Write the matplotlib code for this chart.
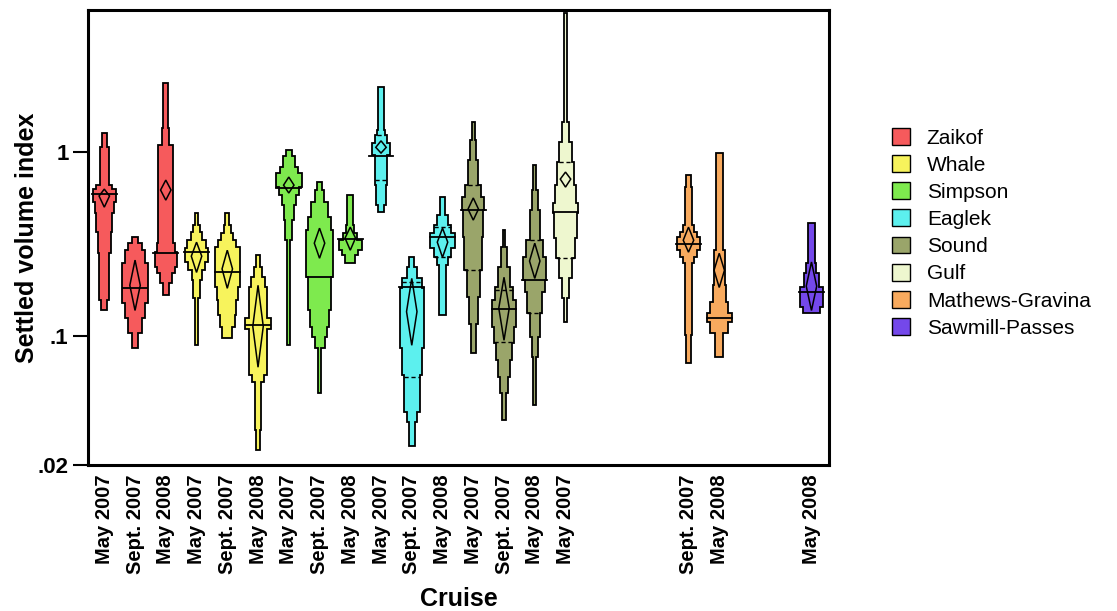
import matplotlib
matplotlib.use("Agg")
import matplotlib.pyplot as plt
from matplotlib.patches import Polygon, Patch

plt.rcParams['font.family'] = ['Liberation Sans', 'DejaVu Sans']

sites = ["Zaikof", "Whale", "Simpson", "Eaglek", "Sound", "Gulf",
         "Mathews-Gravina", "Sawmill-Passes"]
site_colors = ["#F65A5C", "#F7F35C", "#7EEA4E", "#5CF0EE", "#9AA56A",
               "#EEF7CF", "#F8AA5E", "#7448EA"]
cruises = ["May 2007", "Sept. 2007", "May 2008"]

violin_site = [0, 0, 0, 1, 1, 1, 2, 2, 2, 3, 3, 3, 4, 4, 4, 5, 6, 6, 7]
violin_cruise = [0, 1, 2, 0, 1, 2, 0, 1, 2, 0, 1, 2, 0, 1, 2, 0, 1, 2, 2]

# bin edges (settled volume index, top to bottom) and relative density per bin
edges = [
    [1.27, 1.06, 0.661, 0.629, 0.534, 0.466, 0.368, 0.282, 0.157, 0.138],
    [0.345, 0.320, 0.293, 0.249, 0.151, 0.126, 0.104, 0.0861],
    [2.37, 1.35, 1.09, 0.320, 0.286, 0.237, 0.220, 0.194, 0.167],
    [0.466, 0.401, 0.368, 0.332, 0.300, 0.253, 0.228, 0.201, 0.161, 0.0893],
    [0.466, 0.401, 0.363, 0.332, 0.304, 0.184, 0.157, 0.130, 0.112, 0.0977],
    [0.275, 0.237, 0.209, 0.184, 0.125, 0.110, 0.0613, 0.0563, 0.0308, 0.0240],
    [1.025, 0.951, 0.829, 0.768, 0.645, 0.584, 0.515, 0.427, 0.332, 0.0893],
    [0.686, 0.622, 0.534, 0.443, 0.377, 0.209, 0.138, 0.112, 0.0989, 0.0861, 0.0490],
    [0.584, 0.401, 0.363, 0.332, 0.293, 0.275, 0.249],
    [2.25, 1.32, 1.24, 1.12, 0.962, 0.661, 0.515, 0.472],
    [0.268, 0.237, 0.206, 0.182, 0.0861, 0.0613, 0.0386, 0.0341, 0.0255],
    [0.570, 0.454, 0.401, 0.363, 0.300, 0.268, 0.243, 0.130],
    [1.45, 1.16, 0.905, 0.661, 0.570, 0.484, 0.345, 0.228, 0.163, 0.117, 0.0808],
    [0.377, 0.304, 0.237, 0.184, 0.157, 0.112, 0.0916, 0.0741, 0.0598, 0.0490, 0.0350],
    [0.850, 0.622, 0.484, 0.332, 0.268, 0.201, 0.174, 0.133, 0.0989, 0.0769, 0.0422],
    [5.69, 1.45, 1.13, 0.882, 0.661, 0.528, 0.466, 0.341, 0.265, 0.206, 0.161, 0.119],
    [0.749, 0.645, 0.401, 0.368, 0.345, 0.293, 0.268, 0.249, 0.101, 0.0714],
    [0.987, 0.293, 0.189, 0.153, 0.133, 0.119, 0.104, 0.0769],
    [0.411, 0.249, 0.220, 0.184, 0.144, 0.133],
]
density = [
    [0.19, 0.32, 0.62, 0.88, 0.73, 0.62, 0.50, 0.38, 0.23],
    [0.25, 0.52, 0.77, 0.96, 0.77, 0.56, 0.25],
    [0.18, 0.28, 0.56, 0.69, 0.85, 0.69, 0.44, 0.21],
    [0.12, 0.23, 0.42, 0.72, 0.90, 0.62, 0.38, 0.23, 0.08],
    [0.15, 0.27, 0.46, 0.69, 0.96, 0.81, 0.67, 0.58, 0.38],
    [0.18, 0.31, 0.50, 0.69, 0.96, 0.69, 0.42, 0.25, 0.15],
    [0.23, 0.46, 0.69, 1.00, 0.77, 0.54, 0.38, 0.28, 0.12],
    [0.19, 0.35, 0.62, 0.85, 1.00, 0.85, 0.69, 0.54, 0.38, 0.13],
    [0.23, 0.31, 0.54, 0.85, 0.62, 0.38],
    [0.21, 0.31, 0.42, 0.69, 0.46, 0.41, 0.23],
    [0.19, 0.38, 0.77, 0.92, 0.77, 0.62, 0.38, 0.23],
    [0.21, 0.38, 0.62, 0.96, 0.62, 0.38, 0.23],
    [0.10, 0.23, 0.38, 0.62, 0.85, 0.77, 0.69, 0.50, 0.35, 0.19],
    [0.10, 0.23, 0.42, 0.65, 0.92, 0.77, 0.62, 0.46, 0.31, 0.12],
    [0.10, 0.23, 0.38, 0.65, 0.88, 0.77, 0.58, 0.38, 0.23, 0.10],
    [0.09, 0.23, 0.46, 0.62, 0.81, 0.96, 0.85, 0.69, 0.46, 0.23, 0.10],
    [0.18, 0.25, 0.42, 0.65, 0.88, 0.65, 0.42, 0.28, 0.18],
    [0.27, 0.42, 0.50, 0.69, 0.96, 0.69, 0.31],
    [0.23, 0.38, 0.58, 0.85, 0.62],
]
medians = [0.592, 0.182, 0.282, 0.286, 0.222, 0.115, 0.637, 0.209, 0.337, 0.951,
           0.184, 0.345, 0.484, 0.140, 0.201, 0.472, 0.316, 0.125, 0.174]
means = [0.577, 0.189, 0.622, 0.272, 0.232, 0.113, 0.661, 0.320, 0.341, 1.06,
         0.136, 0.324, 0.490, 0.142, 0.256, 0.713, 0.332, 0.228, 0.187]
mean_lo = [0.502, 0.138, 0.548, 0.222, 0.182, 0.0679, 0.599, 0.265, 0.293, 0.987,
           0.0893, 0.268, 0.427, 0.0951, 0.206, 0.645, 0.286, 0.184, 0.138]
mean_hi = [0.629, 0.259, 0.704, 0.324, 0.293, 0.189, 0.731, 0.386, 0.391, 1.15,
           0.206, 0.386, 0.563, 0.209, 0.320, 0.778, 0.391, 0.282, 0.253]
q_upper = [None] * 9 + [1.24, 0.196, 0.391, 0.661, 0.178, 0.332, 0.882, None, None, None]
q_lower = [None] * 9 + [0.704, 0.0598, 0.268, 0.228, 0.0927, 0.133, 0.265, None, None, None]

W = 0.43       # half width for relative density 1
MED_W = 0.40   # half length of median bar
DIA_W = 0.17   # half width of mean diamond

fig = plt.figure(figsize=(11.17, 6.11), dpi=100)
ax = fig.add_axes([88 / 1117, 1 - 465 / 611, (829 - 88) / 1117, (465 - 10) / 611])
ax.set_yscale('log')


def width_at(e, d, v):
    for k in range(len(d)):
        if e[k] >= v >= e[k + 1]:
            return d[k] * W
    return d[-1] * W


positions = []
labels = []
for i in range(len(edges)):
    pos = violin_site[i] * 3 + violin_cruise[i] + 1
    positions.append(pos)
    labels.append(cruises[violin_cruise[i]])
    color = site_colors[violin_site[i]]
    e, d = edges[i], density[i]
    right = []
    for k in range(len(d)):
        right.append((pos + d[k] * W, e[k]))
        right.append((pos + d[k] * W, e[k + 1]))
    left = [(2 * pos - x, y) for x, y in right[::-1]]
    ax.add_patch(Polygon(right + left, closed=True, facecolor=color,
                         edgecolor='black', lw=1.3, joinstyle='miter', zorder=2))
    for q in (q_upper[i], q_lower[i]):
        if q is not None:
            w = width_at(e, d, q)
            ax.plot([pos - w, pos + w], [q, q], color='black', lw=1.0,
                    dashes=(3, 2), zorder=3)
    ax.plot([pos - MED_W, pos + MED_W], [medians[i], medians[i]],
            color='black', lw=1.3, zorder=3)
    ax.add_patch(Polygon([(pos, mean_hi[i]), (pos + DIA_W, means[i]),
                          (pos, mean_lo[i]), (pos - DIA_W, means[i])],
                         closed=True, fill=False, edgecolor='black', lw=1.1, zorder=4))

ax.set_xlim(0.47, 24.57)
ax.set_ylim(0.02, 5.9)
ax.set_xticks(positions)
ax.set_xticklabels(labels, rotation=90, fontsize=14.5, fontweight='bold')
ax.tick_params(axis='x', length=0, pad=7)
ax.set_yticks([0.02, 0.1, 1])
ax.set_yticklabels(['.02', '.1', '1'], fontsize=16, fontweight='bold')
ax.yaxis.set_minor_locator(matplotlib.ticker.NullLocator())
ax.tick_params(axis='y', length=11, width=1.5, direction='out', pad=3)
for sp in ax.spines.values():
    sp.set_linewidth(2.2)

ax.set_ylabel("Settled volume index", fontsize=18, fontweight='bold', labelpad=-1)
ax.set_xlabel("Cruise", fontsize=18, fontweight='bold', labelpad=9)

handles = [Patch(facecolor=c, edgecolor='black', lw=1.0) for c in site_colors]
fig.legend(handles, sites, loc='upper left', bbox_to_anchor=(892 / 1117, 1 - 128 / 611),
           frameon=False, fontsize=15, handlelength=0.87, handleheight=0.87,
           labelspacing=0.36, handletextpad=0.8, borderaxespad=0, borderpad=0)

fig.savefig("out.png", dpi=100)
